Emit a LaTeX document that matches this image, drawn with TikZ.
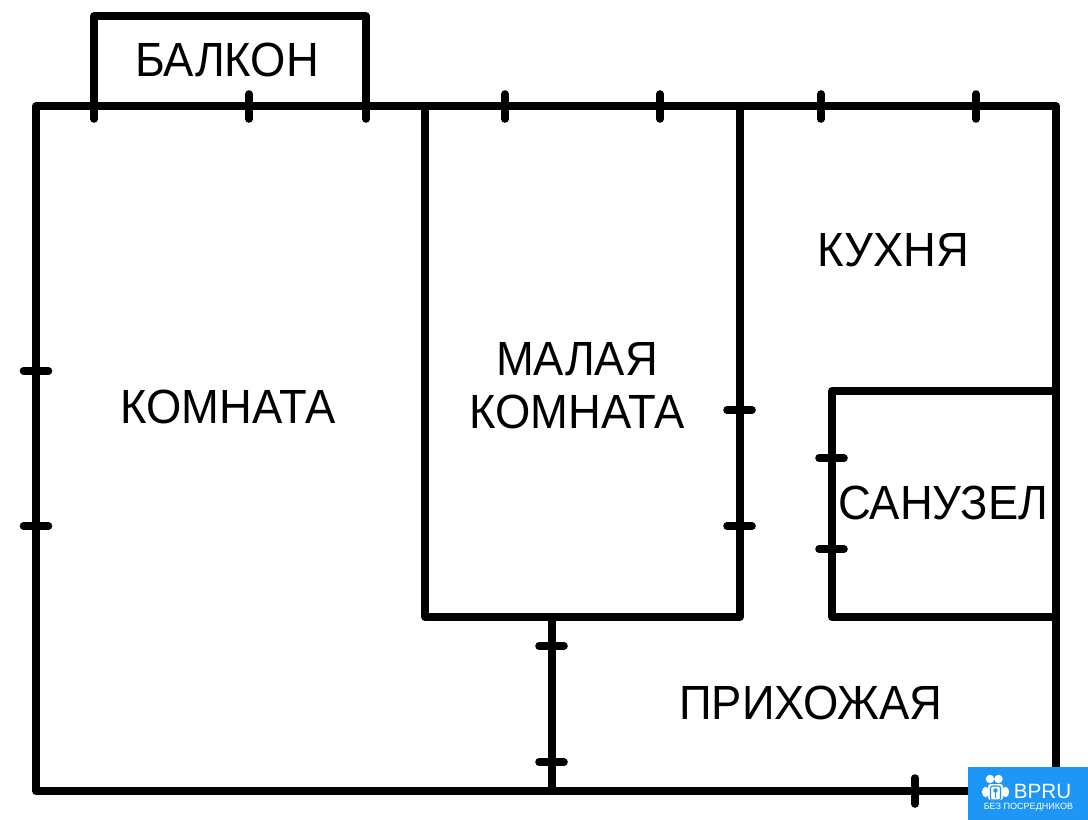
\documentclass[tikz,border=0pt]{standalone}
\usepackage{fontspec}
\setmainfont[FakeStretch=0.945]{Liberation Sans}
\newfontfamily\logofont{Liberation Sans}
\usetikzlibrary{positioning}
\definecolor{logoblue}{RGB}{30,150,245}

\begin{document}
\begin{tikzpicture}[x=0.75pt,y=-0.75pt,
    wall/.style={line width=5.7pt,line join=round,line cap=round},
    tick/.style={line width=5.7pt,line cap=round},
    room/.style={font=\fontsize{36}{40}\selectfont,align=center,inner sep=0pt}]

\useasboundingbox (0,0) rectangle (1088,820);

\draw[wall] (36,106) rectangle (1056,791);
\draw[wall] (94,119) -- (94,16) -- (366,16) -- (366,119);
\draw[wall] (425,106) -- (425,617) -- (740,617) -- (740,106);
\draw[wall] (1056,391) -- (832,391) -- (832,617) -- (1056,617);
\draw[wall] (552,617) -- (552,791);

% ticks
\foreach \x in {249,505,660,821,976}
    \draw[tick] (\x,94) -- (\x,119);
\foreach \y in {371,526}
    \draw[tick] (23.5,\y) -- (48.5,\y);
\foreach \y in {410,526}
    \draw[tick] (727,\y) -- (752,\y);
\foreach \y in {458,549}
    \draw[tick] (819,\y) -- (844,\y);
\foreach \y in {646,762}
    \draw[tick] (539,\y) -- (564,\y);
\draw[tick] (915,778) -- (915,804);

\node[room] (balkon) at (227,60) {БАЛКОН};
\node[room] (komnata) at (228,407) {КОМНАТА};
\node[room] (malaya) at (577,385.5) {МАЛАЯ\\КОМНАТА};
\node[room] (kuhnya) at (893,250) {КУХНЯ};
\node[room] (sanuzel) at (943,503) {САНУЗЕЛ};
\node[room] (prihozhaya) at (811,703) {ПРИХОЖАЯ};

% logo
\fill[logoblue] (968,767) rectangle (1088,820);
\node[text=white,font=\logofont\fontsize{15.5}{18}\selectfont,inner sep=0pt] (bpru) at (1042.5,791.5) {BPRU};
\node[text=white,font=\logofont\fontsize{6.8}{8}\selectfont,inner sep=0pt] (bezposr) at (1028.5,807.5) {БЕЗ ПОСРЕДНИКОВ};
\fill[white] (990,779) circle (4.2) (998.5,779) circle (4.2)
    (985.5,792) ellipse (3.6 and 5.2) (1005.5,792) ellipse (3.6 and 5.2);
\fill[white,rounded corners=2pt] (988,784) rectangle (1003,800);
\draw[logoblue,line width=0.8pt,rounded corners=1.5pt] (990.5,786) rectangle (1000.5,800);
\fill[logoblue] (995.5,790.5) circle (2.2);
\draw[logoblue,line width=0.9pt] (995.5,790.5) -- (995.5,798);
\end{tikzpicture}
\end{document}
